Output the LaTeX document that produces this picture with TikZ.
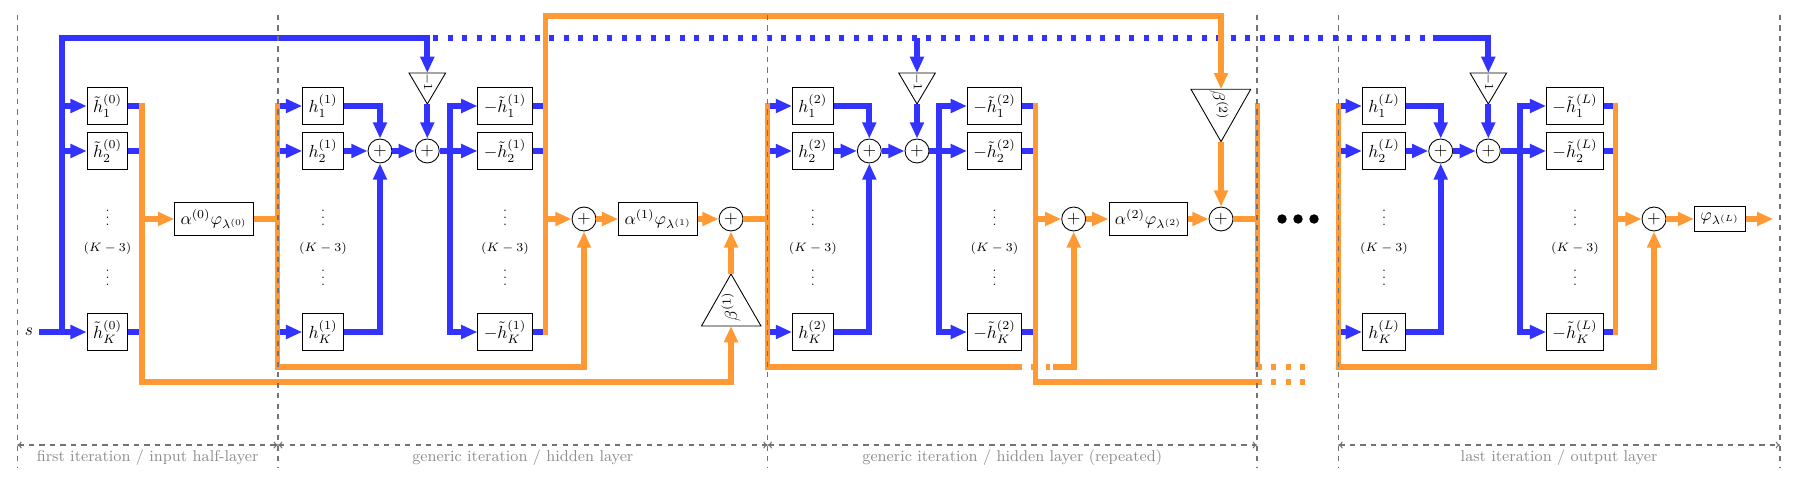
\documentclass[tikz,border=0pt]{standalone}
\usetikzlibrary{arrows.meta,calc}
\definecolor{bl}{HTML}{3333FF}
\definecolor{orng}{HTML}{FF9933}
\tikzset{
 bline/.style={draw=bl,line width=3.3pt},
 oline/.style={draw=orng,line width=3.3pt},
 tipb/.style={-{Triangle[length=9.3pt,width=7.6pt]}},
 boxn/.style={draw,line width=0.55pt,minimum height=20.6pt,fill=white},
 abox/.style={draw,line width=0.55pt,minimum height=19.4pt,fill=white},
 sumn/.style={circle,draw,line width=0.5pt,inner sep=0pt,minimum size=13.7pt,fill=white},
 dotsn/.style={font=\scriptsize,inner sep=0pt},
 tri/.style={draw,line width=0.5pt,fill=white},
 sepl/.style={draw=black!55,dashed,line width=0.6pt},
 seclab/.style={text=black!45,font=\small},
 secarr/.style={draw=black!55,dashed,line width=0.6pt,{To[length=2.5pt,width=4pt]}-{To[length=2.5pt,width=4pt]}},
}
\begin{document}
\begin{tikzpicture}[x=0.5714pt,y=-0.5714pt]
\useasboundingbox (0,0) rectangle (1799,481);

% ---------- nodes: section 0
\node (s) at (29,332) {$s$};
\node[boxn] (a1) at (107.5,106) {$\tilde h_1^{(0)}$};
\node[boxn] (a2) at (107.5,151) {$\tilde h_2^{(0)}$};
\node[boxn] (aK) at (107.5,332) {$\tilde h_K^{(0)}$};
\node[dotsn] (av1) at (107.5,213) {$\vdots$};
\node[dotsn] (ak) at (107.5,248) {$(K-3)$};
\node[dotsn] (av2) at (107.5,273) {$\vdots$};
\node[abox] (A0) at (214,219) {$\alpha^{(0)}\varphi_{\lambda^{(0)}}$};

% ---------- section 1
\node[boxn] (c1) at (323,106) {$h_1^{(1)}$};
\node[boxn] (c2) at (323,151) {$h_2^{(1)}$};
\node[boxn] (cK) at (323,332) {$h_K^{(1)}$};
\node[dotsn] (cv1) at (323,213) {$\vdots$};
\node[dotsn] (ck) at (323,248) {$(K-3)$};
\node[dotsn] (cv2) at (323,273) {$\vdots$};
\node[sumn] (pa1) at (380,151) {$+$};
\node[sumn] (pb1) at (427.3,151) {$+$};
\draw[tri] (409,73) -- (445.6,73) -- (427.3,104) -- cycle;
\coordinate (t1t) at (427.3,73);
\coordinate (t1a) at (427.3,104);
\node[rotate=-90,font=\scriptsize,inner sep=0pt] (t1) at (427.3,82) {$-1$};
\node[boxn] (d1) at (505,106) {$-\tilde h_1^{(1)}$};
\node[boxn] (d2) at (505,151) {$-\tilde h_2^{(1)}$};
\node[boxn] (dK) at (505,332) {$-\tilde h_K^{(1)}$};
\node[dotsn] (dv1) at (505,213) {$\vdots$};
\node[dotsn] (dk) at (505,248) {$(K-3)$};
\node[dotsn] (dv2) at (505,273) {$\vdots$};
\node[sumn] (q1) at (584,219) {$+$};
\node[abox] (A1) at (658,219) {$\alpha^{(1)}\varphi_{\lambda^{(1)}}$};
\node[sumn] (r1) at (731,219) {$+$};
\draw[tri] (701.5,326) -- (761,326) -- (731,274) -- cycle;
\coordinate (b1b) at (731,326);
\coordinate (b1a) at (731,274);
\node[rotate=90,inner sep=0pt] (b1) at (731,307) {$\beta^{(1)}$};

% ---------- section 2
\node[boxn] (e1) at (812.8,106) {$h_1^{(2)}$};
\node[boxn] (e2) at (812.8,151) {$h_2^{(2)}$};
\node[boxn] (eK) at (812.8,332) {$h_K^{(2)}$};
\node[dotsn] (ev1) at (812.8,213) {$\vdots$};
\node[dotsn] (ek) at (812.8,248) {$(K-3)$};
\node[dotsn] (ev2) at (812.8,273) {$\vdots$};
\node[sumn] (pa2) at (869.3,151) {$+$};
\node[sumn] (pb2) at (917,151) {$+$};
\draw[tri] (898.7,73) -- (935.3,73) -- (917,104) -- cycle;
\coordinate (t2t) at (917,73);
\coordinate (t2a) at (917,104);
\coordinate (t2s) at (917,38);
\node[rotate=-90,font=\scriptsize,inner sep=0pt] (t2) at (917,82) {$-1$};
\node[boxn] (f1) at (994.5,106) {$-\tilde h_1^{(2)}$};
\node[boxn] (f2) at (994.5,151) {$-\tilde h_2^{(2)}$};
\node[boxn] (fK) at (994.5,332) {$-\tilde h_K^{(2)}$};
\node[dotsn] (fv1) at (994.5,213) {$\vdots$};
\node[dotsn] (fk) at (994.5,248) {$(K-3)$};
\node[dotsn] (fv2) at (994.5,273) {$\vdots$};
\node[sumn] (q2) at (1073.7,219) {$+$};
\node[abox] (A2) at (1148.3,219) {$\alpha^{(2)}\varphi_{\lambda^{(2)}}$};
\node[sumn] (r2) at (1221,219) {$+$};
\draw[tri] (1191,89.3) -- (1250.7,89.3) -- (1221,141.7) -- cycle;
\coordinate (b2b) at (1221,89.3);
\coordinate (b2a) at (1221,141.7);
\node[rotate=-90,inner sep=0pt] (b2) at (1219,105) {$\beta^{(2)}$};

% ellipsis
\fill (1282,219) circle[radius=2.7pt];
\fill (1298,219) circle[radius=2.7pt];
\fill (1314,219) circle[radius=2.7pt];

% ---------- section L
\node[boxn] (g1) at (1384,106) {$h_1^{(L)}$};
\node[boxn] (g2) at (1384,151) {$h_2^{(L)}$};
\node[boxn] (gK) at (1384,332) {$h_K^{(L)}$};
\node[dotsn] (gv1) at (1384,213) {$\vdots$};
\node[dotsn] (gk) at (1384,248) {$(K-3)$};
\node[dotsn] (gv2) at (1384,273) {$\vdots$};
\node[sumn] (paL) at (1440.7,151) {$+$};
\node[sumn] (pbL) at (1488.3,151) {$+$};
\draw[tri] (1470,73) -- (1506.6,73) -- (1488.3,104) -- cycle;
\coordinate (tLt) at (1488.3,73);
\coordinate (tLa) at (1488.3,104);
\node[rotate=-90,font=\scriptsize,inner sep=0pt] (tL) at (1488.3,82) {$-1$};
\node[boxn] (k1) at (1575,106) {$-\tilde h_1^{(L)}$};
\node[boxn] (k2) at (1575,151) {$-\tilde h_2^{(L)}$};
\node[boxn] (kK) at (1575,332) {$-\tilde h_K^{(L)}$};
\node[dotsn] (kv1) at (1575,213) {$\vdots$};
\node[dotsn] (kk) at (1575,248) {$(K-3)$};
\node[dotsn] (kv2) at (1575,273) {$\vdots$};
\node[sumn] (pL) at (1654,219) {$+$};
\node[draw,line width=0.55pt,minimum height=13.9pt,inner ysep=1pt,fill=white] (F) at (1720,219) {$\varphi_{\lambda^{(L)}}$};
\coordinate (out) at (1773.3,219);

% ---------- coordinates of orange collectors
\coordinate (o0t) at (142,103);   \coordinate (o0b) at (142,382);
\coordinate (o1t) at (277.5,103); \coordinate (o1b) at (277.5,367);
\coordinate (o2t) at (545.5,16);  \coordinate (o2b) at (545.5,335);
\coordinate (o3t) at (767.5,103); \coordinate (o3b) at (767.5,367);
\coordinate (o3e) at (1022,367);  \coordinate (o3s) at (1053,367);
\coordinate (o4t) at (1035.5,103);\coordinate (o4b) at (1035.5,382);
\coordinate (o4e) at (1262,382);
\coordinate (o5t) at (1257.5,103);\coordinate (o5b) at (1257.5,367);
\coordinate (o5e) at (1262,367);
\coordinate (o6t) at (1338.5,103);\coordinate (o6b) at (1338.5,367);
\coordinate (o7t) at (1615.5,103);\coordinate (o7b) at (1615.5,335);

% ---------- blue connectors
\coordinate (j0) at (62,332);
\coordinate (jt) at (62,38);
\draw[bline,tipb] (s) -- (aK);
\draw[bline,tipb] (j0) -- (jt) -| (t1t);
\draw[bline,tipb] (a1 -| j0) -- (a1);
\draw[bline,tipb] (a2 -| j0) -- (a2);
\draw[bline] (a1) -- (a1 -| o0t);
\draw[bline] (a2) -- (a2 -| o0t);
\draw[bline] (aK) -- (aK -| o0t);

\coordinate (bd0) at (433,38);
\coordinate (bd1) at (1427,38);
\draw[bline,dash pattern=on 2.86pt off 5.43pt] (bd0) -- (bd1);
\coordinate (bs1) at (1433,38);
\draw[bline,tipb] (bs1) -| (tLt);
\draw[bline,tipb] (t2s) -- (t2t);

% section 1 blue
\draw[bline,tipb] (c1 -| o1t) -- (c1);
\draw[bline,tipb] (c2 -| o1t) -- (c2);
\draw[bline,tipb] (cK -| o1t) -- (cK);
\draw[bline,tipb] (c1) -| (pa1);
\draw[bline,tipb] (c2) -- (pa1);
\draw[bline,tipb] (cK) -| (pa1);
\draw[bline,tipb] (pa1) -- (pb1);
\draw[bline,tipb] (t1a) -- (pb1);
\coordinate (v1) at (450,151);
\draw[bline,tipb] (pb1) -- (d2);
\draw[bline,tipb] (v1) |- (d1);
\draw[bline,tipb] (v1) |- (dK);
\draw[bline] (d1) -- (d1 -| o2t);
\draw[bline] (d2) -- (d2 -| o2t);
\draw[bline] (dK) -- (dK -| o2t);

% section 2 blue
\draw[bline,tipb] (e1 -| o3t) -- (e1);
\draw[bline,tipb] (e2 -| o3t) -- (e2);
\draw[bline,tipb] (eK -| o3t) -- (eK);
\draw[bline,tipb] (e1) -| (pa2);
\draw[bline,tipb] (e2) -- (pa2);
\draw[bline,tipb] (eK) -| (pa2);
\draw[bline,tipb] (pa2) -- (pb2);
\draw[bline,tipb] (t2a) -- (pb2);
\coordinate (v2) at (939.3,151);
\draw[bline,tipb] (pb2) -- (f2);
\draw[bline,tipb] (v2) |- (f1);
\draw[bline,tipb] (v2) |- (fK);
\draw[bline] (f1) -- (f1 -| o4t);
\draw[bline] (f2) -- (f2 -| o4t);
\draw[bline] (fK) -- (fK -| o4t);

% section L blue
\draw[bline,tipb] (g1 -| o6t) -- (g1);
\draw[bline,tipb] (g2 -| o6t) -- (g2);
\draw[bline,tipb] (gK -| o6t) -- (gK);
\draw[bline,tipb] (g1) -| (paL);
\draw[bline,tipb] (g2) -- (paL);
\draw[bline,tipb] (gK) -| (paL);
\draw[bline,tipb] (paL) -- (pbL);
\draw[bline,tipb] (tLa) -- (pbL);
\coordinate (vL) at (1520,151);
\draw[bline,tipb] (pbL) -- (k2);
\draw[bline,tipb] (vL) |- (k1);
\draw[bline,tipb] (vL) |- (kK);
\draw[bline] (k1) -- (k1 -| o7t);
\draw[bline] (k2) -- (k2 -| o7t);
\draw[bline] (kK) -- (kK -| o7t);

% ---------- orange connectors
\draw[oline,tipb] (o0t) -- (o0b) -| (b1b);
\draw[oline,tipb] (A0 -| o0t) -- (A0);
\draw[oline] (A0) -- (A0 -| o1t);
\draw[oline,tipb] (o1t) -- (o1b) -| (q1);

\draw[oline,tipb] (o2b) -- (o2t) -| (b2b);
\draw[oline,tipb] (q1 -| o2t) -- (q1);
\draw[oline,tipb] (q1) -- (A1);
\draw[oline,tipb] (A1) -- (r1);
\draw[oline,tipb] (b1a) -- (r1);
\draw[oline] (r1) -- (r1 -| o3t);

\draw[oline] (o3t) -- (o3b) -- (o3e);
\draw[oline] (1031,367) -- (1036,367);
\draw[oline] (1046,367) -- (1050,367);
\draw[oline,tipb] (o3s) -| (q2);
\draw[oline] (o4t) -- (o4b) -- (o4e);
\draw[oline,tipb] (q2 -| o4t) -- (q2);
\draw[oline,tipb] (q2) -- (A2);
\draw[oline,tipb] (A2) -- (r2);
\draw[oline,tipb] (b2a) -- (r2);
\draw[oline] (r2) -- (r2 -| o5t);
\draw[oline] (o5t) -- (o5b) -- (o5e);
\foreach \xx in {1271,1286,1300} {
  \draw[oline] (\xx,367) -- ++(5,0);
  \draw[oline] (\xx,382) -- ++(5,0);
}

\draw[oline,tipb] (o6t) -- (o6b) -| (pL);
\draw[oline] (o7t) -- (o7b);
\draw[oline,tipb] (pL -| o7t) -- (pL);
\draw[oline,tipb] (pL) -- (F);
\draw[oline,tipb] (F) -- (out);

% ---------- separators and section labels
\foreach \xx in {17.3,278,767.7,1257,1338.3,1780}
  \draw[sepl] (\xx,15) -- (\xx,467);
\draw[secarr] (17.3,445) -- (278,445);
\draw[secarr] (278,445) -- (767.7,445);
\draw[secarr] (767.7,445) -- (1257,445);
\draw[secarr] (1338.3,445) -- (1780,445);
\node[seclab] (l0) at (147.6,458) {first iteration / input half-layer};
\node[seclab] (l1) at (522.8,458) {generic iteration / hidden layer};
\node[seclab] (l2) at (1012.3,458) {generic iteration / hidden layer (repeated)};
\node[seclab] (l3) at (1559.1,458) {last iteration / output layer};
\end{tikzpicture}
\end{document}
